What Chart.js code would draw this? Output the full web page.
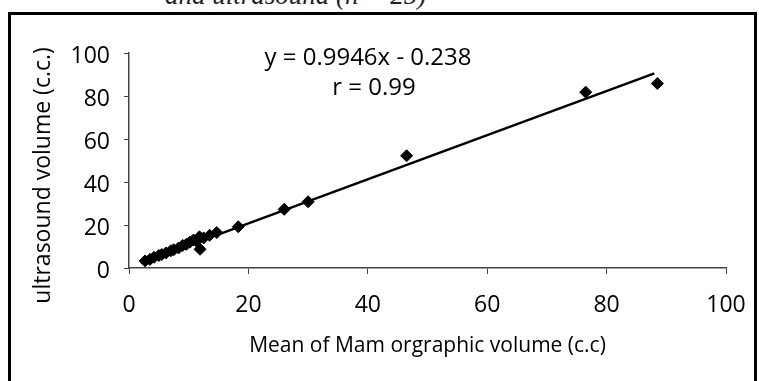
<!DOCTYPE html>
<html>
<head>
<meta charset="utf-8">
<script src="https://cdn.jsdelivr.net/npm/chart.js@4"></script>
<style>
  html, body { margin: 0; padding: 0; background: #fff; }
  body { width: 759px; height: 381px; position: relative; overflow: hidden; }
  .caption {
    position: absolute; left: 165px; top: -18px;
    font: italic 27px "Liberation Serif", serif; line-height: 27px;
    color: #222; white-space: nowrap;
  }
  .frame {
    position: absolute; left: 8px; top: 12px;
    width: 743px; height: 400px;
    border: 3px solid #000;
  }
  #chart { position: absolute; left: 0; top: 0; }
</style>
</head>
<body>
<div class="caption">and ultrasound (n = 25)</div>
<div class="frame"></div>
<canvas id="chart" width="759" height="381"></canvas>
<script>
/* DATA */
const mamVolume = [2.7, 3.5, 4.2, 5, 5.5, 6.2, 7, 7.5, 8.3, 9, 9.6, 10.2, 10.8, 11.3, 11.8, 12.5, 13.5, 14.7, 11.9, 18.3, 26, 30, 46.5, 76.5, 88.5];
const usVolume = [3.3, 4, 5, 5.8, 6.3, 7, 8, 8.5, 9.3, 10.5, 11, 12, 13, 12.5, 14.5, 14, 15.2, 16.5, 8.7, 19.2, 27.3, 30.8, 52.2, 81.8, 85.8];
const trendX = [2, 88];
const trendY = [2.3, 90.5];
const xTicks = [0, 20, 40, 60, 80, 100];
const yTicks = [0, 20, 40, 60, 80, 100];
const equationLines = ["y = 0.9946x - 0.238", "r = 0.99"];

const FONT = "'Open Sans', sans-serif";
const INK = "#000";

/* EQUATION TEXT */
const equationPlugin = {
  id: "equation",
  afterDraw(chart) {
    const c = chart.ctx;
    c.save();
    c.fillStyle = INK;
    c.font = "24px " + FONT;
    c.textAlign = "center";
    c.textBaseline = "middle";
    c.fillText(equationLines[0], 368, 58);
    c.fillText(equationLines[1], 374, 88);
    c.restore();
  }
};

const points = mamVolume.map((x, i) => ({ x: x, y: usVolume[i] }));
const trend = trendX.map((x, i) => ({ x: x, y: trendY[i] }));

new Chart(document.getElementById("chart"), {
  type: "scatter",
  data: {
    datasets: [
      {
        data: points,
        pointStyle: "rectRot",
        pointRadius: 6,
        backgroundColor: "#000",
        borderColor: "#000",
        borderWidth: 1
      },
      {
        data: trend,
        showLine: true,
        pointRadius: 0,
        borderColor: "#000",
        borderWidth: 2.5
      }
    ]
  },
  options: {
    responsive: false,
    animation: false,
    events: [],
    layout: { autoPadding: false, padding: { left: 10, right: 33, top: 53, bottom: 0 } },
    plugins: {
      legend: { display: false },
      tooltip: { enabled: false }
    },
    scales: {
      x: {
        type: "linear",
        min: 0,
        max: 100,
        afterBuildTicks: s => { s.ticks = xTicks.map(v => ({ value: v })); },
        afterFit: s => { s.height = 113; s.paddingLeft = 0; s.paddingRight = 0; },
        ticks: { color: INK, font: { family: FONT, size: 23 }, padding: 18 },
        grid: { drawOnChartArea: false, tickLength: 6, tickColor: "#444" },
        border: { color: "#444", width: 1.5 },
        title: {
          display: true,
          text: "Mean of Mam orgraphic volume (c.c)",
          color: INK,
          font: { family: FONT, size: 21 },
          padding: { top: 0, bottom: 22 }
        }
      },
      y: {
        type: "linear",
        min: 0,
        max: 100,
        afterBuildTicks: s => { s.ticks = yTicks.map(v => ({ value: v })); },
        afterFit: s => { s.width = 119; s.paddingTop = 0; s.paddingBottom = 0; },
        ticks: { color: INK, font: { family: FONT, size: 23 }, padding: 14, labelOffset: 3 },
        grid: { drawOnChartArea: false, tickLength: 5, tickColor: "#444" },
        border: { color: "#444", width: 1.5 },
        title: {
          display: true,
          text: "ultrasound volume (c.c.)     ",
          color: INK,
          font: { family: FONT, size: 23 },
          padding: { top: 20, bottom: 0 }
        }
      }
    }
  },
  plugins: [equationPlugin]
});
</script>
</body>
</html>
